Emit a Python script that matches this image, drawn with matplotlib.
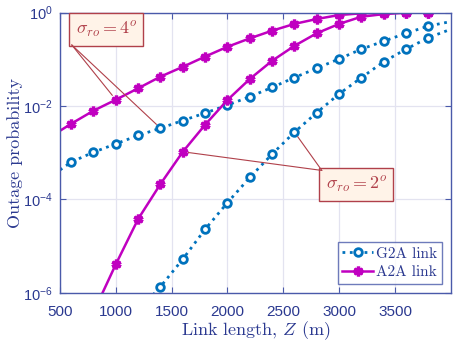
import numpy as np
import matplotlib
matplotlib.use("Agg")
import matplotlib.pyplot as plt

plt.rcParams['font.family'] = ['Liberation Sans', 'DejaVu Sans']
plt.rcParams['mathtext.fontset'] = 'cm'

# link length (m)
z_g2a_4 = [500, 600, 800, 1000, 1200, 1400, 1600, 1800, 2000, 2200, 2400,
           2600, 2800, 3000, 3200, 3400, 3600, 3800, 4000]
# log10 of outage probability
g2a_4 = [-3.37, -3.20, -2.99, -2.81, -2.63, -2.475, -2.31, -2.15, -1.98, -1.80,
         -1.60, -1.39, -1.19, -0.99, -0.78, -0.61, -0.44, -0.285, -0.19]

z_g2a_2 = [1200, 1400, 1600, 1800, 2000, 2200, 2400, 2600, 2800, 3000,
           3200, 3400, 3600, 3800, 4000]
g2a_2 = [-6.4, -5.87, -5.28, -4.64, -4.07, -3.53, -3.03, -2.56, -2.14, -1.74,
         -1.39, -1.05, -0.78, -0.535, -0.355]

z_a2a_4 = [500, 600, 800, 1000, 1200, 1400, 1600, 1800, 2000, 2200, 2400,
           2600, 2800, 3000, 3200, 3400, 3600, 3800, 4000]
a2a_4 = [-2.53, -2.38, -2.10, -1.865, -1.62, -1.37, -1.16, -0.94, -0.73, -0.55,
         -0.385, -0.24, -0.135, -0.05, -0.013, 0.0, 0.0, 0.0, 0.0]

z_a2a_2 = [800, 1000, 1200, 1400, 1600, 1800, 2000, 2200, 2400, 2600, 2800,
           3000, 3200, 3400, 3600, 3800, 4000]
a2a_2 = [-6.42, -5.39, -4.42, -3.67, -2.98, -2.40, -1.87, -1.42, -1.03, -0.71,
         -0.44, -0.24, -0.086, -0.03, 0.0, 0.0, 0.0]

x_ticks = [500, 1000, 1500, 2000, 2500, 3000, 3500]
y_ticks = [1e-6, 1e-4, 1e-2, 1e0]

blue = '#0072BD'
mag = '#C000C0'
navy = '#2B3990'
ann_edge = '#B0404A'
ann_face = '#FFF3E8'

fig = plt.figure(figsize=(4.57, 3.43), dpi=100)
ax = fig.add_axes([0.1313, 0.1466, 0.8551, 0.8164])

def markidx(z):
    # markers every 200 m, none on the end points 500 and 4000
    return [i for i, v in enumerate(z) if v not in (500, 4000)]

g_style = dict(color=blue, ls=':', lw=2, marker='o', ms=5.5, mew=2, mfc='white', mec=blue)
a_style = dict(color=mag, ls='-', lw=1.8, marker=(6, 2, 0), ms=7, mew=2.4, mec=mag)

ax.plot(z_g2a_4, 10 ** np.array(g2a_4), markevery=markidx(z_g2a_4), label='G2A link', **g_style)
ax.plot(z_g2a_2, 10 ** np.array(g2a_2), markevery=markidx(z_g2a_2), **g_style)
ax.plot(z_a2a_4, 10 ** np.array(a2a_4), markevery=markidx(z_a2a_4), label='A2A link', **a_style)
ax.plot(z_a2a_2, 10 ** np.array(a2a_2), markevery=markidx(z_a2a_2), **a_style)

ax.set_yscale('log')
ax.set_xlim(500, 4000)
ax.set_ylim(1e-6, 1)
ax.set_xticks(x_ticks)
ax.set_yticks(y_ticks)
ax.minorticks_off()
ax.grid(True, color='#E3E3F0', lw=0.9)
ax.set_axisbelow(True)
ax.tick_params(direction='in', length=4, top=True, right=True, colors='#4A5AAA',
               labelcolor=navy, labelsize=11)
ax.tick_params(axis='x', pad=9)
ax.tick_params(axis='y', pad=5, labelsize=10.5)
for s in ax.spines.values():
    s.set_color('#4A5AAA')
    s.set_linewidth(1.0)

ax.set_xlabel(r'Link length, $Z$ (m)', fontfamily='cmr10', fontsize=13, color=navy, labelpad=0)
ax.set_ylabel('Outage probability', fontfamily='cmr10', fontsize=13, color=navy, labelpad=0)

leg = ax.legend(loc='lower right', prop={'family': 'cmr10', 'size': 11}, frameon=True,
                fancybox=False, handlelength=2.0, handletextpad=0.2, borderpad=0.3,
                labelspacing=0.3, borderaxespad=0.6)
leg.get_frame().set_edgecolor('#4A5AAA')
for t in leg.get_texts():
    t.set_color(navy)

box = dict(boxstyle='square,pad=0.35', fc=ann_face, ec=ann_edge, lw=1.0)
line = dict(arrowstyle='-', color=ann_edge, lw=0.8, shrinkA=0, shrinkB=4)

# sigma = 4 deg annotation
c4 = (605, 10 ** -0.69)
ax.text(c4[0] + 35, 10 ** -0.37, r'$\sigma_{ro} = 4^o$', fontsize=13, color=ann_edge,
        ha='left', va='center', bbox=box)
ax.annotate('', xy=(z_a2a_4[3], 10 ** a2a_4[3]), xytext=c4, arrowprops=line)
ax.annotate('', xy=(z_g2a_4[5], 10 ** g2a_4[5]), xytext=c4, arrowprops=line)

# sigma = 2 deg annotation
c2 = (2845, 10 ** -3.38)
ax.text(c2[0] + 35, 10 ** -3.69, r'$\sigma_{ro} = 2^o$', fontsize=13, color=ann_edge,
        ha='left', va='center', bbox=box)
ax.annotate('', xy=(z_g2a_2[7], 10 ** g2a_2[7]), xytext=c2, arrowprops=line)
ax.annotate('', xy=(z_a2a_2[4], 10 ** a2a_2[4]), xytext=c2, arrowprops=line)

fig.savefig('out.png', dpi=100)
